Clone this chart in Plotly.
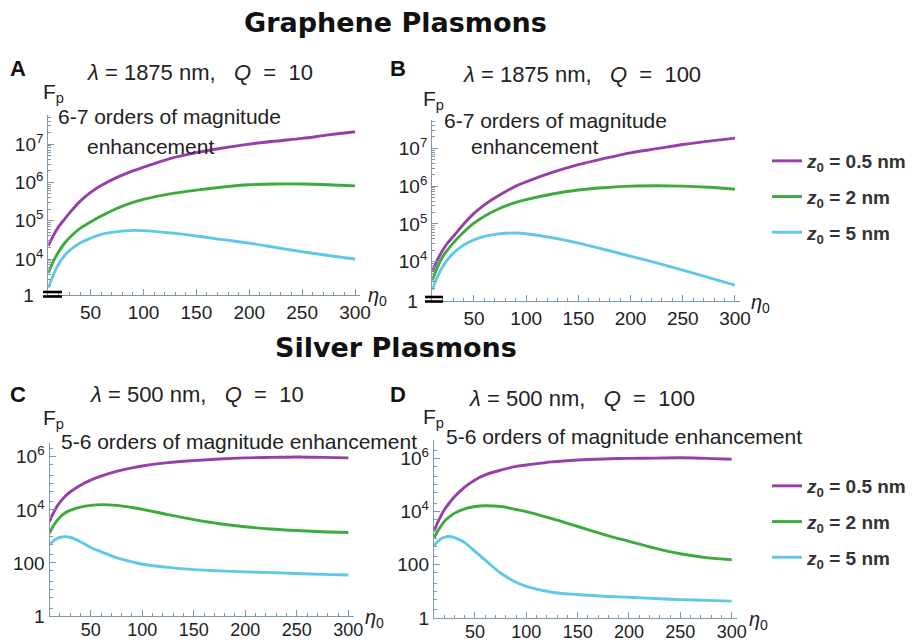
import math
import plotly.graph_objects as go

# ---------------- data ----------------
eta0 = [10, 15, 20, 25, 30, 40, 50, 60, 75, 90, 100, 125, 150, 175, 200, 225, 250, 275, 300]

series_labels = ["0.5 nm", "2 nm", "5 nm"]   # z0 values

# Panel A: graphene, lambda = 1875 nm, Q = 10
A_z05 = [2.2e4, 4.2e4, 7.1e4, 1.07e5, 1.58e5, 3.2e5, 5.5e5, 8.3e5, 1.35e6, 2.0e6, 2.5e6, 4.2e6, 6.0e6, 7.9e6, 1.0e7, 1.2e7, 1.41e7, 1.74e7, 2.1e7]
A_z2 = [4.3e3, 8.9e3, 1.58e4, 2.5e4, 3.6e4, 6.3e4, 9.3e4, 1.32e5, 2.1e5, 3.0e5, 3.6e5, 5.0e5, 6.3e5, 7.6e5, 8.7e5, 9.1e5, 9.1e5, 8.7e5, 8.1e5]
A_z5 = [1.74e3, 4.0e3, 7.6e3, 1.2e4, 1.66e4, 2.6e4, 3.5e4, 4.4e4, 5.2e4, 5.6e4, 5.5e4, 4.8e4, 4.0e4, 3.2e4, 2.6e4, 2.0e4, 1.55e4, 1.23e4, 1.0e4]

# Panel B: graphene, lambda = 1875 nm, Q = 100
B_z05 = [5.4e3, 1.12e4, 2.0e4, 3.2e4, 4.6e4, 9.8e4, 1.9e5, 3.2e5, 5.9e5, 1.0e6, 1.3e6, 2.3e6, 3.7e6, 5.4e6, 7.6e6, 9.8e6, 1.26e7, 1.55e7, 1.86e7]
B_z2 = [3.2e3, 7.1e3, 1.35e4, 2.1e4, 3.1e4, 6.0e4, 1.05e5, 1.6e5, 2.6e5, 3.7e5, 4.4e5, 6.2e5, 7.9e5, 9.1e5, 1.0e6, 1.02e6, 1.0e6, 9.3e5, 8.3e5]
B_z5 = [1.8e3, 4.0e3, 7.4e3, 1.15e4, 1.66e4, 2.75e4, 3.8e4, 4.7e4, 5.5e4, 5.75e4, 5.5e4, 4.3e4, 3.1e4, 2.1e4, 1.4e4, 9.3e3, 6.0e3, 3.8e3, 2.4e3]

# Panel C: silver, lambda = 500 nm, Q = 10
C_z05 = [3.6e3, 9.5e3, 1.9e4, 3.2e4, 4.7e4, 8.5e4, 1.32e5, 1.86e5, 2.8e5, 3.8e5, 4.5e5, 6.0e5, 7.2e5, 8.3e5, 9.1e5, 9.5e5, 9.8e5, 9.5e5, 9.1e5]
C_z2 = [1.32e3, 3.0e3, 5.2e3, 7.6e3, 9.5e3, 1.26e4, 1.48e4, 1.58e4, 1.48e4, 1.23e4, 1.05e4, 6.6e3, 4.3e3, 3.0e3, 2.3e3, 1.9e3, 1.66e3, 1.5e3, 1.4e3]
C_z5 = [490, 740, 910, 980, 930, 630, 380, 263, 158, 110, 89, 68, 56, 50, 46, 43, 40, 37, 35]

# Panel D: silver, lambda = 500 nm, Q = 100
D_z05 = [1.8e3, 5.0e3, 1.15e4, 2.1e4, 3.6e4, 8.3e4, 1.55e5, 2.4e5, 3.6e5, 5.0e5, 5.6e5, 7.4e5, 8.7e5, 9.5e5, 1.0e6, 1.02e6, 1.05e6, 1.0e6, 9.3e5]
D_z2 = [1.0e3, 2.2e3, 4.2e3, 6.3e3, 8.7e3, 1.26e4, 1.55e4, 1.66e4, 1.55e4, 1.2e4, 1.0e4, 5.4e3, 2.75e3, 1.4e3, 760, 420, 260, 186, 155]
D_z5 = [510, 830, 1070, 1150, 1050, 680, 320, 150, 49, 22, 15.5, 9.3, 7.6, 6.6, 6.0, 5.4, 4.9, 4.6, 4.3]

x_tickvals = [50, 100, 150, 200, 250, 300]
x_ticktext = ["50", "100", "150", "200", "250", "300"]

graphene_tickvals = [1e4, 1e5, 1e6, 1e7]
graphene_ticktext = ["10<sup>4</sup>", "10<sup>5</sup>", "10<sup>6</sup>", "10<sup>7</sup>"]
silver_tickvals = [1, 100, 1e4, 1e6]
silver_ticktext = ["1", "100", "10<sup>4</sup>", "10<sup>6</sup>"]

# ---------------- style ----------------
W, H = 917, 642
colors = ["#9440A8", "#3DAA3D", "#5FC8E6"]
axis_col = "#7F98AA"
txt_col = "#222222"
FONT = "Liberation Sans"


def px_x(p):
    return p / W


def px_y(p):
    return 1 - p / H


fig = go.Figure()

panels = [
    # (axis suffix, data, x domain px, y domain px, y log range, kind, legend)
    ("", [A_z05, A_z2, A_z5], (48.3, 360.3), (115, 295), (3.06, 7.76), "graphene", None),
    ("2", [B_z05, B_z2, B_z5], (432.2, 740.2), (120, 301), (2.96, 7.75), "graphene", "legend"),
    ("3", [C_z05, C_z2, C_z5], (49.5, 353.5), (443, 616), (0.0, 6.52), "silver", None),
    ("4", [D_z05, D_z2, D_z5], (433.9, 736.8), (440, 618), (0.0, 6.69), "silver", "legend2"),
]

layout_axes = {}
for suffix, data, xd, yd, yr, kind, leg in panels:
    for i, ys in enumerate(data):
        tr = dict(
            x=eta0, y=ys, mode="lines",
            line=dict(color=colors[i], width=2.9, shape="spline", smoothing=1.0),
            name="<b><i>z</i><sub>0</sub> = " + series_labels[i] + "</b>",
            xaxis="x" + suffix, yaxis="y" + suffix,
            showlegend=leg is not None,
            hoverinfo="x+y",
        )
        if leg is not None:
            tr["legend"] = leg
            tr["legendgroup"] = leg + str(i)
        fig.add_trace(go.Scatter(**tr))

    if kind == "graphene":
        tv = [10 ** yr[0]] + graphene_tickvals
        tt = ["1\u2002"] + graphene_ticktext
        minor_vals = [m * 10 ** k for k in range(3, 8) for m in range(2, 10)
                      if yr[0] < (k + math.log10(m)) < yr[1]]
        x_standoff = 0
        x_font = 19
    else:
        tv = silver_tickvals
        tt = silver_ticktext
        minor_vals = [10 ** k for k in (1, 3, 5)] + [m * 10 ** k for k in range(0, 7) for m in (2, 5)
                                                    if (k + math.log10(m)) < yr[1]]
        x_standoff = -3
        x_font = 18

    ax_common = dict(
        showline=True, linecolor=axis_col, linewidth=1.2,
        ticks="inside", tickcolor=axis_col, ticklen=6, tickwidth=1,
        showgrid=False, zeroline=False, automargin=False,
        tickfont=dict(family=FONT, size=19, color=txt_col),
    )
    layout_axes["xaxis" + suffix] = dict(
        ax_common,
        domain=[px_x(xd[0]), px_x(xd[1])],
        range=[10, 305],
        anchor="y" + suffix,
        tickmode="array", tickvals=x_tickvals, ticktext=x_ticktext,
        ticklabelstandoff=x_standoff,
        tickfont=dict(family=FONT, size=x_font, color=txt_col),
        minor=dict(ticks="inside", ticklen=3, tickcolor=axis_col, dtick=10, tick0=0),
    )
    layout_axes["yaxis" + suffix] = dict(
        ax_common,
        type="log",
        domain=[px_y(yd[1]), px_y(yd[0])],
        range=list(yr),
        anchor="x" + suffix,
        tickmode="array", tickvals=tv, ticktext=tt,
        minor=dict(ticks="inside", ticklen=3, tickcolor=axis_col,
                   tickmode="array", tickvals=minor_vals),
    )

fig.update_layout(**layout_axes)

annotations = []


def add_text(text, x, y, size, bold=False, xanchor="center", yanchor="middle", family=FONT, color=txt_col):
    annotations.append(dict(
        text=("<b>" + text + "</b>") if bold else text,
        x=px_x(x), y=px_y(y), xref="paper", yref="paper",
        xanchor=xanchor, yanchor=yanchor, showarrow=False,
        font=dict(family=family, size=size, color=color),
    ))


# section titles
add_text("Graphene Plasmons", 395, 23, 27, bold=True, family="DejaVu Sans", color="#111111")
add_text("Silver Plasmons", 396, 348, 27, bold=True, family="DejaVu Sans", color="#111111")

# panel letters
for letter, x, y in [("A", 18, 69), ("B", 398, 69), ("C", 18, 394), ("D", 398, 394)]:
    add_text(letter, x, y, 22, bold=True, color="#111111")

sp = "\u00a0"


def subtitle(lam, q):
    return ("<i>λ</i>" + sp + "=" + sp + lam + sp + "nm," + sp * 3 +
            "<i>Q</i>" + sp * 2 + "=" + sp * 2 + q)


add_text(subtitle("1875", "10"), 200, 72, 22)
add_text(subtitle("1875", "100"), 582, 74, 22)
add_text(subtitle("500", "10"), 197, 394, 22)
add_text(subtitle("500", "100"), 582, 398, 22)

# Fp labels
for x, y in [(41, 93), (421, 100), (41, 419), (421, 418)]:
    add_text("F<sub>p</sub>", x, y, 21, xanchor="left")

# enhancement notes
add_text("6-7 orders of magnitude", 56, 117, 21, xanchor="left")
add_text("enhancement", 150, 146, 21)
add_text("6-7 orders of magnitude", 442, 121, 21, xanchor="left")
add_text("enhancement", 534, 146, 21)
add_text("5-6 orders of magnitude enhancement", 59, 441, 21, xanchor="left")
add_text("5-6 orders of magnitude enhancement", 444, 436, 21, xanchor="left")

# eta0 axis labels
for x, y in [(377, 296), (760, 303), (374, 618), (758, 620)]:
    add_text("<i>η</i><sub>0</sub>", x, y, 20)

fig.update_layout(annotations=annotations)

# axis-break marks at the bottom of the graphene panels
shapes = []
for x0, x1, ys in [(43, 62, (292, 296.5)), (425, 443, (297, 301.5))]:
    for yy in ys:
        shapes.append(dict(type="line", xref="paper", yref="paper",
                           x0=px_x(x0), x1=px_x(x1), y0=px_y(yy), y1=px_y(yy),
                           line=dict(color="black", width=2.6)))
fig.update_layout(shapes=shapes)

legend_style = dict(
    xanchor="left", yanchor="top",
    font=dict(family=FONT, size=19, color="#333333"),
    bgcolor="rgba(0,0,0,0)", borderwidth=0,
    tracegroupgap=8, traceorder="grouped", itemwidth=30,
)
fig.update_layout(
    legend=dict(legend_style, x=px_x(767), y=px_y(142)),
    legend2=dict(legend_style, x=px_x(767), y=px_y(467)),
    width=W, height=H,
    margin=dict(l=0, r=0, t=0, b=0, autoexpand=False),
    paper_bgcolor="white", plot_bgcolor="white",
    showlegend=True,
)

fig.write_html("out.html", config={"displayModeBar": False},
               post_script="document.body.style.margin='0px';")
